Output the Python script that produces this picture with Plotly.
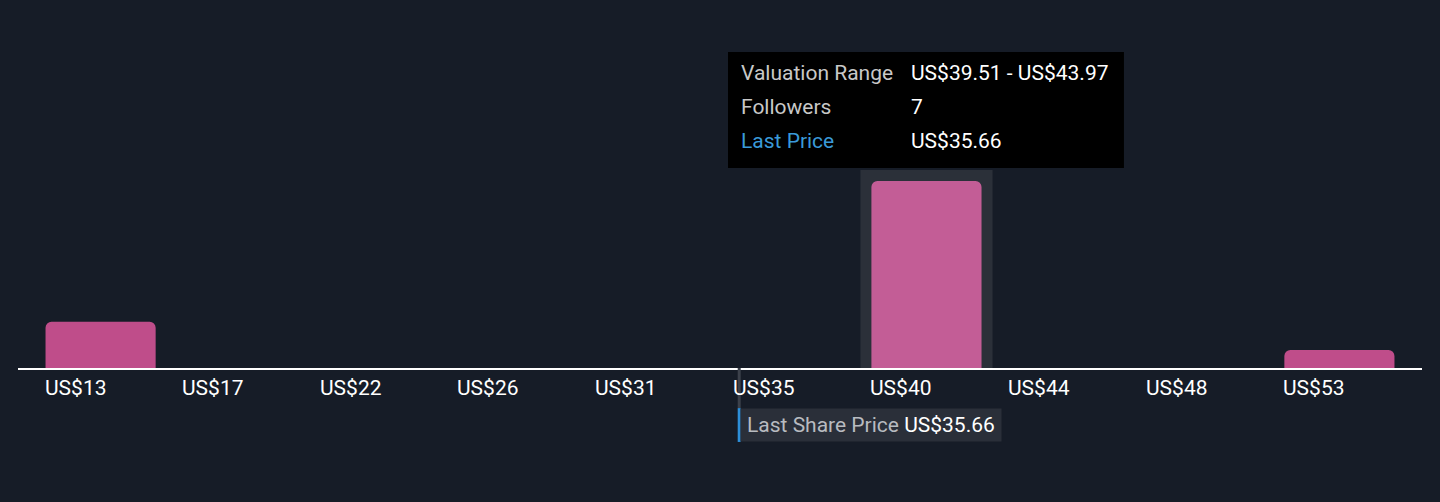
import plotly.graph_objects as go

# ---- data ----
bin_starts = [12.75, 17.21, 21.67, 26.13, 30.59, 35.05, 39.51, 43.97, 48.43, 52.89]
bin_end = 57.35
tick_labels = ["US$13", "US$17", "US$22", "US$26", "US$31", "US$35", "US$40", "US$44", "US$48", "US$53"]
followers = [2, 0, 0, 0, 0, 0, 7, 0, 0, 1]
bar_colors = ["#bf4d8a", "#bf4d8a", "#bf4d8a", "#bf4d8a", "#bf4d8a", "#bf4d8a", "#c35d96", "#bf4d8a", "#bf4d8a", "#bf4d8a"]
last_price = 35.66
hover_index = 6

BG = "#161c27"
FONT = "Roboto"

idx = list(range(len(bin_starts)))
xs = [i for i in idx if followers[i] > 0]

fig = go.Figure()
fig.add_trace(go.Bar(
    x=xs, y=[followers[i] for i in xs], width=0.8,
    marker=dict(color=[bar_colors[i] for i in xs], line=dict(width=0)),
    hoverinfo="skip", showlegend=False, xaxis="x", yaxis="y",
))
# invisible trace for the linear price axis
fig.add_trace(go.Scatter(x=[bin_starts[0], bin_end], y=[None, None], mode="lines",
                         xaxis="x2", yaxis="y", showlegend=False, hoverinfo="skip"))

# hover band behind highlighted bar
fig.add_shape(type="rect", xref="x", yref="y", layer="below",
              x0=hover_index - 0.48, x1=hover_index + 0.48,
              y0=0, y1=followers[hover_index] + 0.39,
              fillcolor="#2b3039", line=dict(width=0))

# tick labels left-aligned at bar start
for i, lab in zip(idx, tick_labels):
    fig.add_annotation(x=i - 0.4, xref="x", y=-0.055, yref="paper", text=lab,
                       showarrow=False, xanchor="left", yanchor="middle", xshift=-3,
                       font=dict(family=FONT, size=21, color="#ffffff"))

# last price marker
fig.add_shape(type="line", xref="x2", yref="paper", x0=last_price, x1=last_price,
              y0=0, y1=-0.109, line=dict(color="#3c414b", width=3))
fig.add_shape(type="line", xref="x2", yref="paper", x0=last_price, x1=last_price,
              y0=-0.109, y1=-0.201, line=dict(color="#2d8fd9", width=3))
fig.add_annotation(x=last_price, xref="x2", y=-0.155, yref="paper",
                   text="<span style='font-size:8px'>&nbsp;</span><span style='color:#b8bbc0'>Last Share Price</span> US$%.2f<span style='font-size:8px'>&nbsp;</span>" % last_price,
                   showarrow=False, xanchor="left", yanchor="middle", xshift=1,
                   bgcolor="#2a2f39", borderpad=4,
                   font=dict(family=FONT, size=21, color="#ffffff"))

# tooltip
fig.add_shape(type="rect", xref="paper", yref="paper", x0=0.5057, x1=0.7877,
              y0=0.5435, y1=0.8587, fillcolor="#000000", line=dict(width=0))
rows = [("Valuation Range", "US$%.2f - US$%.2f" % (bin_starts[hover_index], bin_starts[hover_index + 1]), "#c8c8c8"),
        ("Followers", str(followers[hover_index]), "#c8c8c8"),
        ("Last Price", "US$%.2f" % last_price, "#3a9ad9")]
for r, (lab, val, col) in enumerate(rows):
    yy = 0.8016 - r * 0.0924
    fig.add_annotation(x=0.5157, xref="paper", y=yy, yref="paper", text=lab, showarrow=False,
                       xanchor="left", yanchor="middle", xshift=-3,
                       font=dict(family=FONT, size=21, color=col))
    fig.add_annotation(x=0.6368, xref="paper", y=yy, yref="paper", text=val, showarrow=False,
                       xanchor="left", yanchor="middle", xshift=-3,
                       font=dict(family=FONT, size=21, color="#ffffff"))

fig.update_layout(
    width=1440, height=502,
    margin=dict(l=18, r=18, t=0, b=134),
    paper_bgcolor=BG, plot_bgcolor=BG,
    barcornerradius=6,
    xaxis=dict(range=[-0.6, 9.6], showgrid=False, zeroline=False, showticklabels=False,
               showline=True, linecolor="#ffffff", linewidth=2, ticks="", fixedrange=True),
    xaxis2=dict(range=[bin_starts[0], bin_end], overlaying="x", visible=False, fixedrange=True),
    yaxis=dict(range=[0.36, 13.43], visible=False, fixedrange=True),
    showlegend=False,
)
fig.write_html("out.html", config={"displayModeBar": False},
               post_script="document.body.style.margin='0';document.body.style.background='%s';" % BG)
